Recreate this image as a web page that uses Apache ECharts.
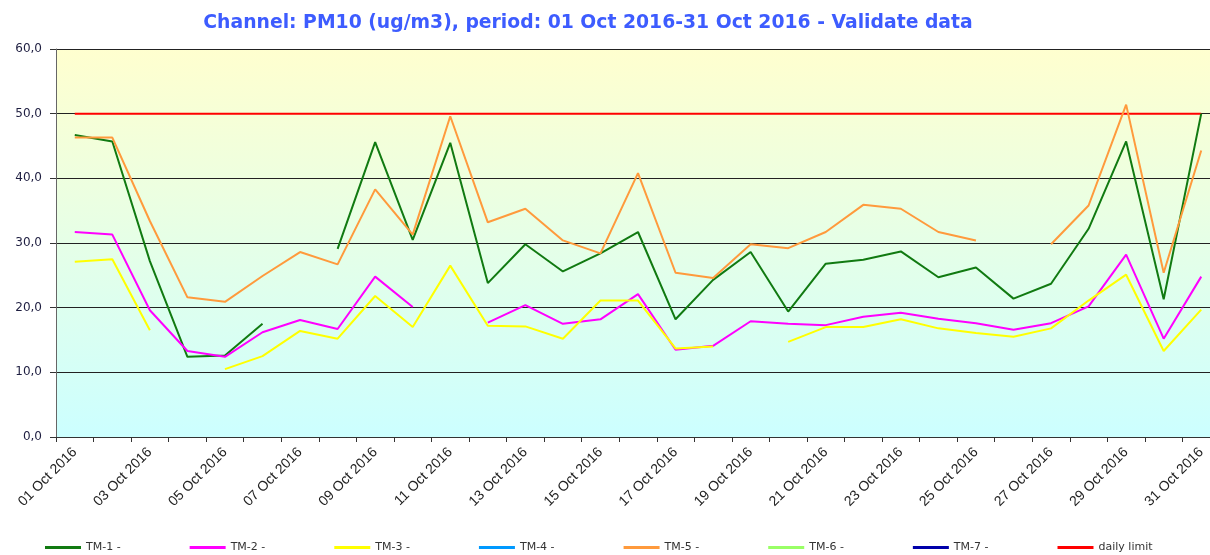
<!DOCTYPE html>
<html>
<head>
<meta charset="utf-8">
<script src="https://cdn.jsdelivr.net/npm/echarts@6/dist/echarts.min.js"></script>
<style>
  html, body { margin: 0; padding: 0; background: #fff; overflow: hidden; }
  /* the plot runs past the right edge of the picture, so the canvas is a bit wider than the window */
  #chart { width: 1220px; height: 555px; }
</style>
</head>
<body>
<div id="chart"></div>
<script>
// days of October 2016
var days = ['01 Oct 2016', '02 Oct 2016', '03 Oct 2016', '04 Oct 2016', '05 Oct 2016', '06 Oct 2016',
  '07 Oct 2016', '08 Oct 2016', '09 Oct 2016', '10 Oct 2016', '11 Oct 2016', '12 Oct 2016',
  '13 Oct 2016', '14 Oct 2016', '15 Oct 2016', '16 Oct 2016', '17 Oct 2016', '18 Oct 2016',
  '19 Oct 2016', '20 Oct 2016', '21 Oct 2016', '22 Oct 2016', '23 Oct 2016', '24 Oct 2016',
  '25 Oct 2016', '26 Oct 2016', '27 Oct 2016', '28 Oct 2016', '29 Oct 2016', '30 Oct 2016',
  '31 Oct 2016']

var tm1 = [46.7, 45.7, 27.2, 12.4, 12.6, 17.5, null, 29.1, 45.6, 30.5, 45.5, 23.8, 29.8, 25.6, 28.4, 31.7,
  18.2, 24.3, 28.6, 19.4, 26.8, 27.4, 28.7, 24.7, 26.2, 21.4, 23.7, 32.2, 45.7, 21.3, 50.0]
var tm2 = [31.7, 31.3, 19.6, 13.3, 12.4, 16.2, 18.1, 16.7, 24.8, 20.1, null, 17.7, 20.4, 17.5, 18.2, 22.1,
  13.5, 14.1, 17.9, 17.5, 17.3, 18.6, 19.2, 18.3, 17.6, 16.6, 17.6, 20.2, 28.2, 15.2, 24.8]
var tm3 = [27.1, 27.5, 16.5, null, 10.5, 12.5, 16.4, 15.2, 21.8, 17.0, 26.5, 17.2, 17.1, 15.2, 21.1, 21.1,
  13.7, 14.0, null, 14.7, 17.0, 17.0, 18.2, 16.8, 16.1, 15.5, 16.8, 21.1, 25.1, 13.3, 19.7]
var tm4 = []
var tm5 = [46.3, 46.3, 33.4, 21.6, 20.9, 24.9, 28.6, 26.7, 38.3, 31.3, 49.6, 33.2, 35.3, 30.4, 28.4, 40.8,
  25.4, 24.6, 29.8, 29.2, 31.7, 35.9, 35.3, 31.7, 30.4, null, 29.8, 35.8, 51.4, 25.4, 44.3]
var tm6 = []
var tm7 = []
var dailyLimit = days.map(function () { return 50 })

var seriesNames = ['TM-1 -', 'TM-2 -', 'TM-3 -', 'TM-4 -', 'TM-5 -', 'TM-6 -', 'TM-7 -', 'daily limit']
var seriesData = [tm1, tm2, tm3, tm4, tm5, tm6, tm7, dailyLimit]
var colors = ['#117a11', '#ff00ff', '#ffff00', '#0099ff', '#ff9a3c', '#99ff66', '#0000aa', '#ff0000']

var myChart = echarts.init(document.getElementById('chart'))
myChart.setOption({
  animation: false,
  color: colors,
  title: {
    text: 'Channel: PM10 (ug/m3), period: 01 Oct 2016-31 Oct 2016 - Validate data',
    left: 583,
    top: 9,
    textAlign: 'center',
    textStyle: {
      color: '#3d5cff',
      fontSize: 18.8,
      fontWeight: 'bold',
      fontFamily: 'DejaVu Sans'
    }
  },
  legend: {
    left: 45,
    top: 542,
    padding: 0,
    icon: 'rect',
    itemWidth: 36,
    itemHeight: 3,
    itemGap: 69,
    textStyle: {
      fontSize: 11,
      color: '#333',
      fontFamily: 'DejaVu Sans'
    },
    data: seriesNames
  },
  grid: {
    left: 56,
    top: 49,
    right: 0,
    height: 388,
    show: true,
    borderWidth: 0,
    backgroundColor: new echarts.graphic.LinearGradient(0, 0, 0, 1, [
      { offset: 0, color: '#ffffcf' },
      { offset: 1, color: '#ccffff' }
    ])
  },
  xAxis: {
    type: 'category',
    data: days,
    boundaryGap: true,
    axisLine: { lineStyle: { color: '#333', width: 1 } },
    axisTick: { show: true, interval: 0, length: 5, lineStyle: { color: '#333' } },
    axisLabel: {
      interval: 1,
      rotate: 45,
      margin: 13,
      color: '#222',
      fontSize: 14,
      fontFamily: 'Liberation Sans'
    },
    splitLine: { show: false }
  },
  yAxis: {
    type: 'value',
    min: 0,
    max: 60,
    interval: 10,
    axisLine: { show: true, lineStyle: { color: '#666', width: 1 } },
    axisTick: { show: true, length: 6, lineStyle: { color: '#333' } },
    axisLabel: {
      color: '#1e1e40',
      fontSize: 12,
      fontFamily: 'DejaVu Sans',
      margin: 14,
      formatter: function (v) {
        return v.toFixed(1).replace('.', ',')
      }
    },
    splitLine: { show: true, lineStyle: { color: '#222', width: 1 } }
  },
  series: seriesNames.map(function (name, i) {
    return {
      name: name,
      type: 'line',
      data: seriesData[i],
      showSymbol: false,
      symbol: 'none',
      connectNulls: false,
      lineStyle: { width: 2, color: colors[i] },
      itemStyle: { color: colors[i] },
      z: i === 7 ? 1 : 2 + i
    }
  })
})
</script>
</body>
</html>
